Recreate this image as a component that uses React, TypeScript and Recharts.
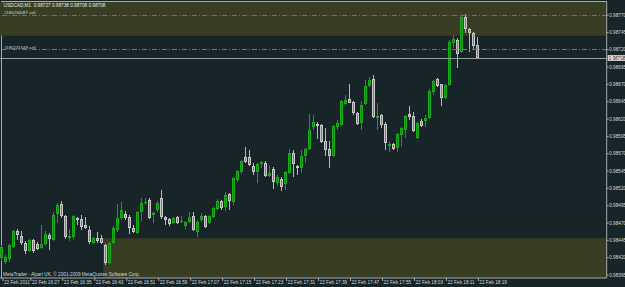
import React from "react";
import { ComposedChart, Bar, XAxis, YAxis, ReferenceLine, ReferenceArea } from "recharts";

// USDCAD M1, 22 Feb 2011, one entry per minute bar
const OPEN = [
  0.9842, 0.98414, 0.98418, 0.98436, 0.98458, 0.98451, 0.98441, 0.9843, 0.98445, 0.9844,
  0.98434, 0.9844, 0.98453, 0.98445, 0.98483, 0.98497, 0.9848, 0.98448, 0.9845, 0.98477,
  0.98476, 0.98467, 0.9846, 0.98441, 0.98448, 0.98448, 0.98438, 0.98412, 0.98441, 0.9846,
  0.98477, 0.98483, 0.98479, 0.98463, 0.98456, 0.98486, 0.98499, 0.98503, 0.98482, 0.98489,
  0.98506, 0.98479, 0.98476, 0.9847, 0.98479, 0.98471, 0.98466, 0.98471, 0.9848, 0.98457,
  0.98474, 0.9848, 0.9847, 0.98479, 0.9849, 0.98502, 0.98493, 0.98512, 0.985, 0.98532,
  0.98544, 0.98565, 0.98565, 0.98552, 0.98544, 0.98555, 0.98557, 0.98538, 0.98548, 0.98528,
  0.98533, 0.98526, 0.98542, 0.98571, 0.98552, 0.98549, 0.98567, 0.98577, 0.98609, 0.98613,
  0.98611, 0.98588, 0.98577, 0.98567, 0.98609, 0.98611, 0.98642, 0.98649, 0.98645, 0.98629,
  0.98614, 0.98642, 0.98668, 0.98678, 0.98621, 0.98626, 0.98613, 0.98581, 0.98584, 0.98578,
  0.98597, 0.98604, 0.98627, 0.98624, 0.98593, 0.98617, 0.98617, 0.98621, 0.98659, 0.98678,
  0.9867, 0.9865, 0.98669, 0.9873, 0.98734, 0.98717, 0.98767, 0.9875, 0.98744, 0.98727,
];
const HIGH = [
  0.98438, 0.98424, 0.9844, 0.9846, 0.98461, 0.98458, 0.98444, 0.98447, 0.98447, 0.98443,
  0.98467, 0.98458, 0.98456, 0.98486, 0.98499, 0.98502, 0.98482, 0.98461, 0.98482, 0.98479,
  0.98482, 0.98479, 0.98466, 0.9845, 0.98457, 0.98453, 0.9844, 0.98443, 0.98466, 0.98497,
  0.985, 0.98487, 0.98482, 0.98467, 0.98487, 0.98506, 0.98506, 0.98506, 0.98486, 0.98502,
  0.98518, 0.9848, 0.98477, 0.98479, 0.9848, 0.9848, 0.98473, 0.98486, 0.98486, 0.98474,
  0.98484, 0.98482, 0.98482, 0.98493, 0.98505, 0.98503, 0.98515, 0.98513, 0.98536, 0.98546,
  0.98561, 0.9858, 0.98575, 0.98557, 0.98557, 0.98559, 0.98559, 0.98554, 0.98551, 0.98539,
  0.98536, 0.98545, 0.98577, 0.98575, 0.98554, 0.98575, 0.98578, 0.98627, 0.98626, 0.98615,
  0.98613, 0.98607, 0.98588, 0.98611, 0.98619, 0.98647, 0.98655, 0.9867, 0.98646, 0.9863,
  0.98646, 0.98676, 0.98681, 0.98683, 0.98643, 0.98627, 0.98616, 0.98588, 0.98585, 0.986,
  0.98609, 0.98626, 0.98639, 0.9863, 0.98616, 0.9862, 0.98626, 0.98663, 0.98676, 0.98679,
  0.98671, 0.9867, 0.98734, 0.98741, 0.98737, 0.98771, 0.98771, 0.98751, 0.98745, 0.98738,
];
const LOW = [
  0.98415, 0.98411, 0.98414, 0.98434, 0.98445, 0.98438, 0.98425, 0.98428, 0.98427, 0.98431,
  0.98433, 0.98437, 0.98431, 0.98444, 0.9847, 0.98477, 0.98448, 0.98443, 0.98448, 0.98467,
  0.98461, 0.98461, 0.9844, 0.9844, 0.98441, 0.9844, 0.98409, 0.98411, 0.9844, 0.98457,
  0.98474, 0.98474, 0.98454, 0.98456, 0.98454, 0.98473, 0.98496, 0.98476, 0.9847, 0.98486,
  0.98476, 0.98467, 0.98466, 0.98469, 0.98469, 0.9847, 0.98461, 0.9847, 0.98458, 0.9845,
  0.98471, 0.98463, 0.98469, 0.98477, 0.98489, 0.98489, 0.98487, 0.98489, 0.98495, 0.98528,
  0.98541, 0.98557, 0.98552, 0.98539, 0.98528, 0.98549, 0.98536, 0.98536, 0.98519, 0.98523,
  0.98516, 0.98518, 0.98541, 0.98536, 0.98539, 0.98542, 0.98557, 0.98575, 0.98604, 0.98591,
  0.98585, 0.98567, 0.98549, 0.98565, 0.98604, 0.9861, 0.9864, 0.98642, 0.98626, 0.98611,
  0.98604, 0.9864, 0.98666, 0.98621, 0.98604, 0.98607, 0.98575, 0.98572, 0.98575, 0.98572,
  0.9858, 0.98593, 0.98619, 0.98601, 0.98591, 0.98609, 0.98609, 0.9862, 0.98655, 0.98666,
  0.98639, 0.98649, 0.98668, 0.98722, 0.98694, 0.98715, 0.98744, 0.98717, 0.98721, 0.98708,
];
const CLOSE = [
  0.98436, 0.98421, 0.98438, 0.98458, 0.98453, 0.98441, 0.9843, 0.98445, 0.9843, 0.98433,
  0.9844, 0.98454, 0.98447, 0.98482, 0.98496, 0.9848, 0.9845, 0.98451, 0.9848, 0.98474,
  0.98464, 0.98463, 0.98443, 0.98448, 0.98444, 0.98441, 0.98412, 0.98441, 0.98463, 0.98477,
  0.98489, 0.98477, 0.98463, 0.98457, 0.98486, 0.98499, 0.985, 0.98477, 0.98484, 0.98499,
  0.98479, 0.98474, 0.98469, 0.98477, 0.9847, 0.98473, 0.98471, 0.98479, 0.9846, 0.98471,
  0.9848, 0.98464, 0.9848, 0.98492, 0.98502, 0.98492, 0.9851, 0.98502, 0.98535, 0.98545,
  0.98559, 0.98558, 0.98554, 0.98544, 0.98555, 0.98558, 0.98538, 0.98542, 0.98529, 0.98536,
  0.98522, 0.98544, 0.98571, 0.98555, 0.98549, 0.98567, 0.98577, 0.98604, 0.98616, 0.9861,
  0.98587, 0.98575, 0.98567, 0.9861, 0.98614, 0.98646, 0.98647, 0.98643, 0.98629, 0.98613,
  0.9864, 0.98668, 0.98676, 0.98623, 0.98624, 0.98611, 0.98585, 0.98584, 0.98577, 0.98598,
  0.98607, 0.98624, 0.98623, 0.98603, 0.98614, 0.9861, 0.98621, 0.9866, 0.98675, 0.98668,
  0.9865, 0.98669, 0.98731, 0.98736, 0.98714, 0.98767, 0.9875, 0.98744, 0.98725, 0.98708,
];

// first bar 16:20; the chart keeps 32 empty minutes on the right (chart shift)
const FIRST_MINUTE = 16 * 60 + 20;
const SLOTS = 152;
const TIMES: string[] = [];
for (let i = 0; i < SLOTS; i++) {
  const m = FIRST_MINUTE + i;
  TIMES.push(`${Math.floor(m / 60)}:${String(m % 60).padStart(2, "0")}`);
}

const TICK_TIMES = ["16:20", "16:27", "16:35", "16:43", "16:51", "16:59", "17:07", "17:15", "17:23", "17:31", "17:39", "17:47", "17:55", "18:03", "18:11", "18:19"];
const TICK_LABELS = ["22 Feb 2011", "22 Feb 16:27", "22 Feb 16:35", "22 Feb 16:43", "22 Feb 16:51", "22 Feb 16:59", "22 Feb 17:07", "22 Feb 17:15", "22 Feb 17:23", "22 Feb 17:31", "22 Feb 17:39", "22 Feb 17:47", "22 Feb 17:55", "22 Feb 18:03", "22 Feb 18:11", "22 Feb 18:19"];

const Y_TICKS = [0.98395, 0.9842, 0.98445, 0.9847, 0.98495, 0.9852, 0.98545, 0.9857, 0.98595, 0.9862, 0.98645, 0.9867, 0.98695, 0.9872, 0.98745, 0.9877];
const Y_DOMAIN = [0.983907, 0.987888];

// order lines, rectangles, bid
const ORDERS = [
  { price: 0.9877, label: "#180234087 sell" },
  { price: 0.9872, label: "#180231549 sell" },
];
const BID = 0.98708;
const TOP_BOX = [0.9874, 0.987888];
const BOTTOM_BOX = [0.983907, 0.98448];
const BOTTOM_BOX_START = "16:46";

const TITLE = "USDCAD,M1  0.98727 0.98738 0.98708 0.98708";
const CREDIT = "MetaTrader - Alpari UK, \u00a9 2001-2009 MetaQuotes Software Corp.";

const FONT = '"Liberation Sans", Arial, sans-serif';
const BG = "#172428";
const BORDER = "#a8acac";
const TEXT = "#d4d8dc";
const BOX = "#383d24";
const ORDER_LINE = "#12b812";

const data = TIMES.map((time, i) =>
  i < OPEN.length
    ? { time, open: OPEN[i], high: HIGH[i], low: LOW[i], close: CLOSE[i], range: [LOW[i], HIGH[i]] }
    : { time }
);

function Candle(props: any) {
  const { x, y, width, height, payload } = props;
  if (!payload || payload.open == null || x == null) return null;
  const { open, close, high, low } = payload;
  const top0 = Math.min(y, y + height);
  const h = Math.abs(height);
  const k = high > low ? h / (high - low) : 0;
  const py = (v: number) => top0 + (high - v) * k;
  const cx = Math.round(x + width / 2);
  const up = close >= open;
  const bTop = Math.round(py(Math.max(open, close)));
  const bBot = Math.max(bTop + 1, Math.round(py(Math.min(open, close))));
  const wick = up ? "#1a9e1a" : "#b8b8b8";
  return (
    <g shapeRendering="crispEdges">
      <rect x={cx} y={Math.round(top0)} width={1} height={Math.max(1, Math.round(h))} fill={wick} />
      <rect x={cx - 1} y={bTop} width={3} height={bBot - bTop} fill={up ? "#1aaa1a" : "#c8c8c8"} />
      {bBot - bTop > 2 && (
        <rect x={cx} y={bTop + 1} width={1} height={bBot - bTop - 2} fill={up ? "#0c8c0c" : "#7c7c7c"} />
      )}
    </g>
  );
}

// dash-dot horizontal line snapped to a pixel row
function OrderLine(p: any) {
  const yy = Math.round(p.y1 - 0.5) + 0.5;
  return (
    <line
      x1={p.x1}
      x2={p.x2}
      y1={yy}
      y2={yy}
      stroke={ORDER_LINE}
      strokeWidth={1}
      strokeDasharray="5 2 1 2"
      shapeRendering="crispEdges"
    />
  );
}

function TimeTick(props: any) {
  const { x, y, payload } = props;
  const idx = TICK_TIMES.indexOf(payload.value);
  if (idx < 0) return null;
  return (
    <g>
      <line x1={x + 1.5} x2={x + 1.5} y1={y} y2={y + 3} stroke={BORDER} strokeWidth={1} />
      <text x={x + 2.5} y={y + 6.2} fontSize={4.7} fill={TEXT} fontFamily={FONT}>
        {TICK_LABELS[idx]}
      </text>
    </g>
  );
}

export default function App() {
  return (
    <div style={{ position: "absolute", left: 0, top: 0, width: 625, height: 287, background: BG, overflow: "hidden" }}>
      {/* chart frame (top + left edges) */}
      <svg width={625} height={287} style={{ position: "absolute", left: 0, top: 0 }}>
        <line x1={1.5} x2={1.5} y1={1} y2={278} stroke={BORDER} />
        <line x1={1} x2={607} y1={1.5} y2={1.5} stroke={BORDER} />
      </svg>
      <div style={{ position: "absolute", left: 0, top: 0 }}>
        <ComposedChart
          width={625}
          height={287}
          data={data}
          margin={{ top: 2, right: 0, bottom: 0, left: -0.55 }}
          barCategoryGap={0}
        >
          <XAxis
            dataKey="time"
            ticks={TICK_TIMES}
            interval={0}
            tickSize={0}
            tickMargin={0}
            height={9}
            axisLine={{ stroke: BORDER }}
            tick={(p: any) => <TimeTick {...p} />}
          />
          <YAxis
            orientation="right"
            domain={Y_DOMAIN}
            ticks={Y_TICKS}
            allowDataOverflow
            interval={0}
            width={18.31}
            tickSize={2}
            tickMargin={0.5}
            tickFormatter={(v: number) => v.toFixed(5)}
            tick={{ fontSize: 4.7, fill: TEXT, fontFamily: FONT }}
            axisLine={{ stroke: BORDER }}
            tickLine={{ stroke: BORDER }}
          />
          <ReferenceArea y1={TOP_BOX[0]} y2={TOP_BOX[1]} fill={BOX} fillOpacity={1} stroke="none" ifOverflow="hidden" />
          <ReferenceArea
            x1={BOTTOM_BOX_START}
            y1={BOTTOM_BOX[0]}
            y2={BOTTOM_BOX[1]}
            fill={BOX}
            fillOpacity={1}
            stroke="none"
            ifOverflow="hidden"
          />
          {ORDERS.map((o) => (
            <ReferenceLine
              key={o.label}
              y={o.price}
              stroke={ORDER_LINE}
              shape={(p: any) => <OrderLine {...p} />}
              label={(p: any) => (
                <text x={p.viewBox.x + 4.5} y={p.viewBox.y - 1} fontSize={4.3} fill={TEXT} fontFamily={FONT}>
                  {o.label}
                </text>
              )}
            />
          ))}
          <ReferenceLine
            y={BID}
            stroke="#9a9a9a"
            shapeRendering="crispEdges"
            label={(p: any) => (
              <g>
                <rect x={p.viewBox.x + p.viewBox.width + 1} y={p.viewBox.y - 2.8} width={18} height={5.6} fill="#f2f2f2" />
                <text x={p.viewBox.x + p.viewBox.width + 1.8} y={p.viewBox.y + 1.7} fontSize={4.7} fill="#111" fontFamily={FONT}>
                  {BID.toFixed(5)}
                </text>
              </g>
            )}
          />
          <Bar dataKey="range" shape={(p: any) => <Candle {...p} />} isAnimationActive={false} />
        </ComposedChart>
      </div>
      <svg width={625} height={287} style={{ position: "absolute", left: 0, top: 0, pointerEvents: "none" }}>
        <text x={3.5} y={7.3} fontSize={4.7} fill="#e8e8e8" fontFamily={FONT} style={{ whiteSpace: "pre" }}>
          {TITLE}
        </text>
        <text x={3} y={275.5} fontSize={4.7} fill={TEXT} fontFamily={FONT}>
          {CREDIT}
        </text>
      </svg>
    </div>
  );
}
